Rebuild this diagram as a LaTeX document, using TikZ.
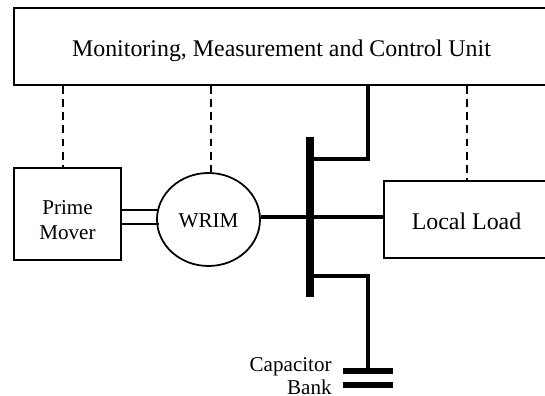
\documentclass[tikz,border=0pt]{standalone}
\usepackage{fontspec}
\setmainfont{Liberation Serif}
\usetikzlibrary{positioning,calc,shapes.geometric}

\begin{document}
\begin{tikzpicture}[
    box/.style={draw, line width=1pt, align=center, inner sep=0pt},
    small/.style={inner sep=0pt, align=center, font=\fontsize{12}{14.6}\selectfont},
    large/.style={inner sep=0pt, align=center, font=\fontsize{13.6}{16}\selectfont},
    feeder/.style={line width=2pt},
    shaft/.style={line width=1pt},
    signal/.style={line width=0.75pt, dash pattern=on 4.5pt off 3pt},
    plate/.style={inner sep=0pt, minimum width=1cm, minimum height=0.11cm, fill=black},
    label/.style={align=right, inner sep=0pt, font=\fontsize{12}{13}\selectfont}
]
\useasboundingbox (0,0) rectangle (10.9,7.92);

% Control unit
\node[box, minimum width=10.68cm, minimum height=1.54cm] (unit) at (5.62,6.99) {};
\node[large, anchor=base] (unittext) at (5.63,6.78) {Monitoring, Measurement and Control Unit};

% Machines
\node[box, minimum width=2.14cm, minimum height=1.84cm] (mover) at (1.35,3.64) {};
\node[small] (movertext) at ($(mover.center)+(0,-0.12)$) {Prime\\Mover};
\node[box, ellipse, minimum width=2.06cm, minimum height=1.86cm] (wrim) at (4.17,3.53) {};
\node[small, anchor=base] (wrimtext) at (4.17,3.36) {WRIM};
\node[box, minimum width=3.3cm, minimum height=1.54cm] (load) at (9.33,3.53) {};
\node[large, anchor=base] (loadtext) at (9.33,3.32) {Local Load};

% Busbar
\coordinate (bustop) at (6.2,5.18);
\coordinate (busbot) at (6.2,1.98);
\draw[line width=4.5pt] (bustop) -- (busbot);

% Shaft
\draw[shaft] ($(mover.east)+(0,0.08)$) -- ++(0.74,0);
\draw[shaft] ($(mover.east)+(0,-0.2)$) -- ++(0.74,0);

% Power lines
\coordinate (upperjoin) at (6.2,4.74);
\coordinate (lowerjoin) at (6.2,2.4);
\coordinate (feedx) at (7.36,0.5);
\draw[feeder] ($(wrim.east)+(0,0.05)$) -- ($(load.west)+(0,0.05)$);
\draw[feeder] (upperjoin) -| (unit.south -| feedx);
\draw[feeder] (lowerjoin) -| (feedx);

% Capacitor Bank
\node[plate] (plate1) at (7.36,0.5) {};
\node[plate] (plate2) at (7.36,0.22) {};
\node[label, anchor=east] (cap) at (6.64,0.39) {Capacitor\\Bank};

% Signals
\coordinate (moversig) at (1.26,5);
\coordinate (wrimsig) at (4.22,5);
\coordinate (loadsig) at (9.34,5);
\draw[signal] (unit.south -| moversig) -- (mover.north -| moversig);
\draw[signal] (unit.south -| wrimsig) -- (wrim.north -| wrimsig);
\draw[signal] (unit.south -| loadsig) -- (load.north -| loadsig);
\end{tikzpicture}
\end{document}
